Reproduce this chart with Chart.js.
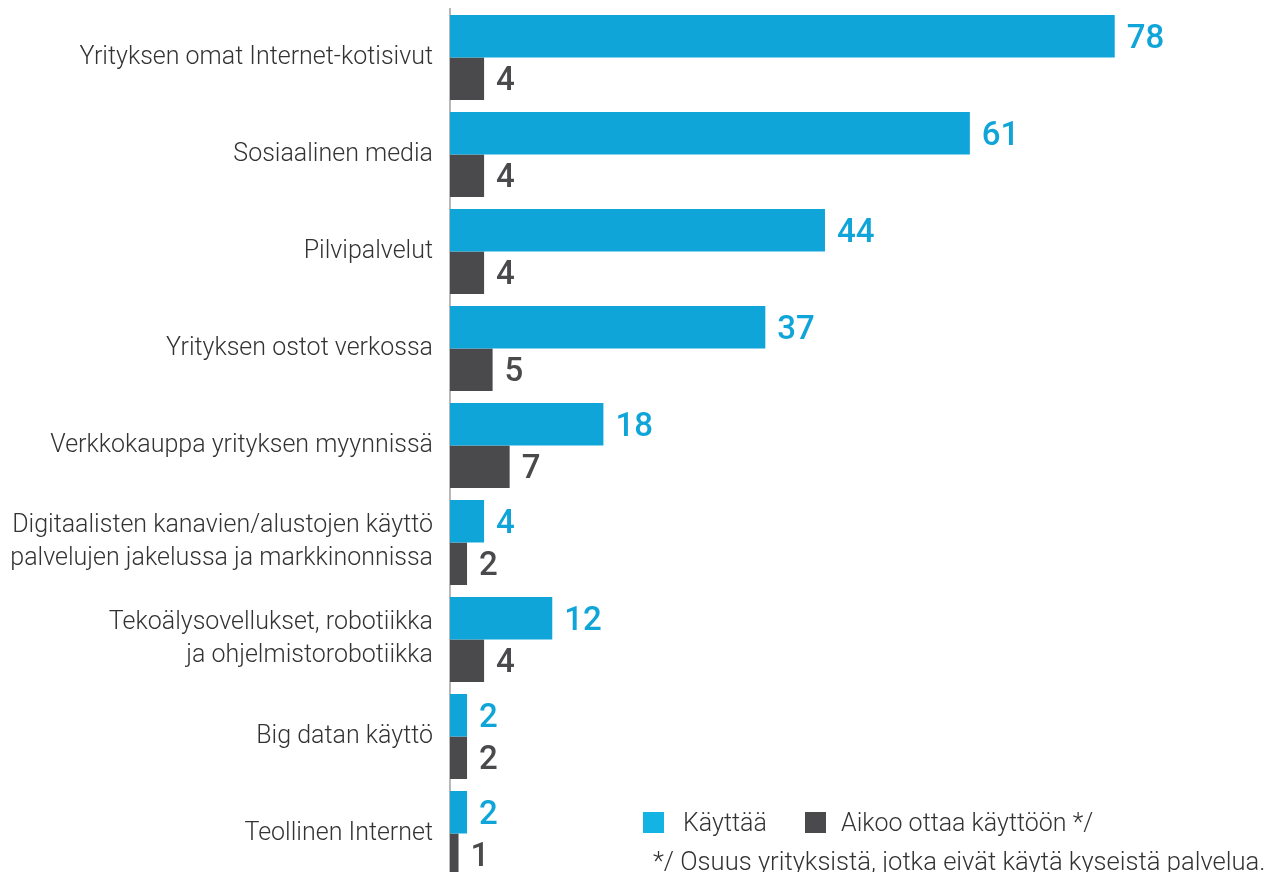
<!DOCTYPE html>
<html>
<head>
<meta charset="utf-8">
<script src="https://cdn.jsdelivr.net/npm/chart.js@4.4.1/dist/chart.umd.min.js"></script>
<style>
  html, body { margin: 0; padding: 0; background: #fff; overflow: hidden; width: 1266px; height: 872px; }
  #wrap { position: absolute; left: 0; top: 0; width: 1266px; height: 882px; }
  .leg { position: absolute; font-family: Roboto, sans-serif; font-weight: 300; color: #333; font-size: 25px; line-height: 25px; white-space: nowrap; }
  .sw { position: absolute; width: 21px; height: 21px; }
</style>
</head>
<body>
<div id="wrap"><canvas id="c"></canvas></div>
<div class="sw" style="left:643px;top:812px;background:#13b4e4;"></div>
<div class="leg" id="l1" style="left:683px;top:810px;">Käyttää</div>
<div class="sw" style="left:805px;top:812px;background:#4a4a4d;"></div>
<div class="leg" id="l2" style="left:841px;top:810px;">Aikoo ottaa käyttöön */</div>
<div class="leg" id="fn" style="left:653px;top:849px;font-size:25.6px;">*/ Osuus yrityksistä, jotka eivät käytä kyseistä palvelua.</div>
<script>
const categories = [
  'Yrityksen omat Internet-kotisivut',
  'Sosiaalinen media',
  'Pilvipalvelut',
  'Yrityksen ostot verkossa',
  'Verkkokauppa yrityksen myynnissä',
  ['Digitaalisten kanavien/alustojen käyttö', 'palvelujen jakelussa ja markkinonnissa'],
  ['Tekoälysovellukset, robotiikka', 'ja ohjelmistorobotiikka'],
  'Big datan käyttö',
  'Teollinen Internet'
];
const seriesNames = ['Käyttää', 'Aikoo ottaa käyttöön */'];
const kayttaa = [78, 61, 44, 37, 18, 4, 12, 2, 2];
const aikoo = [4, 4, 4, 5, 7, 2, 4, 2, 1];

const BLUE = '#10a5d9';
const DARK = '#4a4a4d';

const valueLabels = {
  id: 'valueLabels',
  afterDatasetsDraw(chart) {
    const ctx = chart.ctx;
    const size = 33;
    ctx.save();
    ctx.font = '500 ' + size + 'px Roboto, sans-serif';
    ctx.textAlign = 'left';
    ctx.textBaseline = 'alphabetic';
    chart.data.datasets.forEach((ds, di) => {
      const meta = chart.getDatasetMeta(di);
      ctx.fillStyle = ds.labelColor;
      meta.data.forEach((el, i) => {
        ctx.fillText(String(ds.data[i]), el.x + 12, el.y + size * 0.355);
      });
    });
    ctx.restore();
  }
};

new Chart(document.getElementById('c'), {
  type: 'bar',
  data: {
    labels: categories,
    datasets: [
      { label: seriesNames[0], data: kayttaa, backgroundColor: BLUE, labelColor: BLUE,
        categoryPercentage: 0.876, barPercentage: 1.0 },
      { label: seriesNames[1], data: aikoo, backgroundColor: DARK, labelColor: DARK,
        categoryPercentage: 0.876, barPercentage: 1.0 }
    ]
  },
  options: {
    indexAxis: 'y',
    responsive: true,
    maintainAspectRatio: false,
    animation: false,
    layout: { padding: { top: 9, right: 49, bottom: 0, left: 0 } },
    plugins: { legend: { display: false }, tooltip: { enabled: false } },
    scales: {
      x: { display: false, min: 0, max: 90 },
      y: {
        grid: { display: false, drawTicks: false },
        border: { display: true, color: '#b8b8b8', width: 2 },
        ticks: { color: '#333', padding: 17, font: { family: 'Roboto, sans-serif', weight: '300', size: 25, lineHeight: 1.32 } },
        afterFit(scale) { scale.width = 450; scale.paddingTop = 0; scale.paddingBottom = 0; }
      }
    }
  },
  plugins: [valueLabels]
});
</script>
</body>
</html>
